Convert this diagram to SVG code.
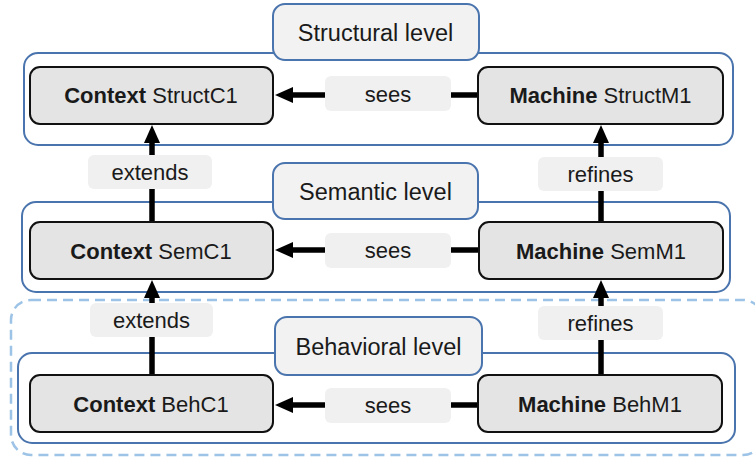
<svg xmlns="http://www.w3.org/2000/svg" width="755" height="458" viewBox="0 0 755 458">
  <style>
    .level { fill: #ffffff; stroke: #4a74ad; stroke-width: 2; }
    .levelTag { fill: #f2f2f2; stroke: #4a74ad; stroke-width: 2; }
    .node { fill: #e4e4e4; stroke: #111111; stroke-width: 2; }
    .tag { fill: #f0f0f0; stroke: none; }
    .band { fill: none; stroke: #9dc3e6; stroke-width: 2.5; stroke-dasharray: 10 6; }
    text { font-family: "Liberation Sans", Arial, sans-serif; font-size: 22px; fill: #1a1a1a; text-anchor: middle; }
    .title { font-size: 23.5px; }
    .b { font-weight: bold; }
    .edge { stroke: #000000; stroke-width: 5.5; fill: none; }
  </style>
  <defs>
    <marker id="arrow" markerUnits="userSpaceOnUse" markerWidth="18" markerHeight="18" refX="1" refY="8" orient="auto">
      <path d="M0,0 L18,8 L0,16 z" fill="#000000"/>
    </marker>
  </defs>

  <rect width="755" height="458" fill="#ffffff"/>

  <!-- behavioral band (dashed) -->
  <rect class="band" x="11" y="300" width="752" height="155" rx="20"/>

  <!-- level frames -->
  <g id="structural-level">
    <rect class="level" x="24" y="53" width="709" height="92" rx="14"/>
    <rect class="levelTag" x="273" y="4" width="206" height="56" rx="12"/>
    <text class="title" x="375.5" y="40.5">Structural level</text>
  </g>
  <g id="semantic-level">
    <rect class="level" x="22" y="202" width="708" height="90" rx="14"/>
    <rect class="levelTag" x="273" y="163" width="205" height="56" rx="12"/>
    <text class="title" x="375.5" y="199.5">Semantic level</text>
  </g>
  <g id="behavioral-level">
    <rect class="level" x="18" y="353" width="717" height="90" rx="14"/>
    <rect class="levelTag" x="275" y="317" width="207" height="58" rx="12"/>
    <text class="title" x="378.5" y="354.5">Behavioral level</text>
  </g>

  <!-- connectors -->
  <g id="connectors">
    <!-- sees -->
    <line class="edge" x1="478" y1="95" x2="451" y2="95"/>
    <line class="edge" x1="325" y1="95" x2="292" y2="95" marker-end="url(#arrow)"/>
    <line class="edge" x1="479" y1="250" x2="451" y2="250"/>
    <line class="edge" x1="325" y1="250" x2="292" y2="250" marker-end="url(#arrow)"/>
    <line class="edge" x1="478" y1="405" x2="451" y2="405"/>
    <line class="edge" x1="325" y1="405" x2="292" y2="405" marker-end="url(#arrow)"/>
    <!-- extends -->
    <line class="edge" x1="152" y1="222" x2="152" y2="189"/>
    <line class="edge" x1="152" y1="155" x2="152" y2="142" marker-end="url(#arrow)"/>
    <line class="edge" x1="152" y1="375" x2="152" y2="337"/>
    <line class="edge" x1="152" y1="303" x2="152" y2="297" marker-end="url(#arrow)"/>
    <!-- refines -->
    <line class="edge" x1="601" y1="222" x2="601" y2="191"/>
    <line class="edge" x1="601" y1="157" x2="601" y2="142" marker-end="url(#arrow)"/>
    <line class="edge" x1="601" y1="375" x2="601" y2="340"/>
    <line class="edge" x1="601" y1="306" x2="601" y2="297" marker-end="url(#arrow)"/>
  </g>

  <!-- connector labels -->
  <g id="label-sees-struct">
    <rect class="tag" x="325" y="76" width="126" height="35" rx="6"/>
    <text x="388" y="101.5">sees</text>
  </g>
  <g id="label-sees-sem">
    <rect class="tag" x="325" y="233" width="126" height="35" rx="6"/>
    <text x="388" y="258">sees</text>
  </g>
  <g id="label-sees-beh">
    <rect class="tag" x="325" y="388" width="126" height="35" rx="6"/>
    <text x="388" y="413">sees</text>
  </g>
  <g id="label-extends-upper">
    <rect class="tag" x="88" y="155" width="124" height="34" rx="6"/>
    <text x="150" y="180">extends</text>
  </g>
  <g id="label-extends-lower">
    <rect class="tag" x="90" y="303" width="123" height="34" rx="6"/>
    <text x="151.5" y="328">extends</text>
  </g>
  <g id="label-refines-upper">
    <rect class="tag" x="538" y="157" width="125" height="34" rx="6"/>
    <text x="600.5" y="182">refines</text>
  </g>
  <g id="label-refines-lower">
    <rect class="tag" x="538" y="306" width="125" height="34" rx="6"/>
    <text x="600.5" y="331">refines</text>
  </g>

  <!-- nodes -->
  <g id="StructC1">
    <rect class="node" x="30" y="67" width="243" height="57" rx="10"/>
    <text x="151" y="103"><tspan class="b">Context</tspan> StructC1</text>
  </g>
  <g id="StructM1">
    <rect class="node" x="478" y="67" width="245" height="57" rx="10"/>
    <text x="600.5" y="103"><tspan class="b">Machine</tspan> StructM1</text>
  </g>
  <g id="SemC1">
    <rect class="node" x="30" y="222" width="243" height="57" rx="10"/>
    <text x="151" y="258.5"><tspan class="b">Context</tspan> SemC1</text>
  </g>
  <g id="SemM1">
    <rect class="node" x="479" y="222" width="244" height="57" rx="10"/>
    <text x="601" y="258.5"><tspan class="b">Machine</tspan> SemM1</text>
  </g>
  <g id="BehC1">
    <rect class="node" x="30" y="375" width="243" height="57" rx="10"/>
    <text x="151" y="411.5"><tspan class="b">Context</tspan> BehC1</text>
  </g>
  <g id="BehM1">
    <rect class="node" x="478" y="375" width="244" height="57" rx="10"/>
    <text x="600" y="411.5"><tspan class="b">Machine</tspan> BehM1</text>
  </g>
</svg>
